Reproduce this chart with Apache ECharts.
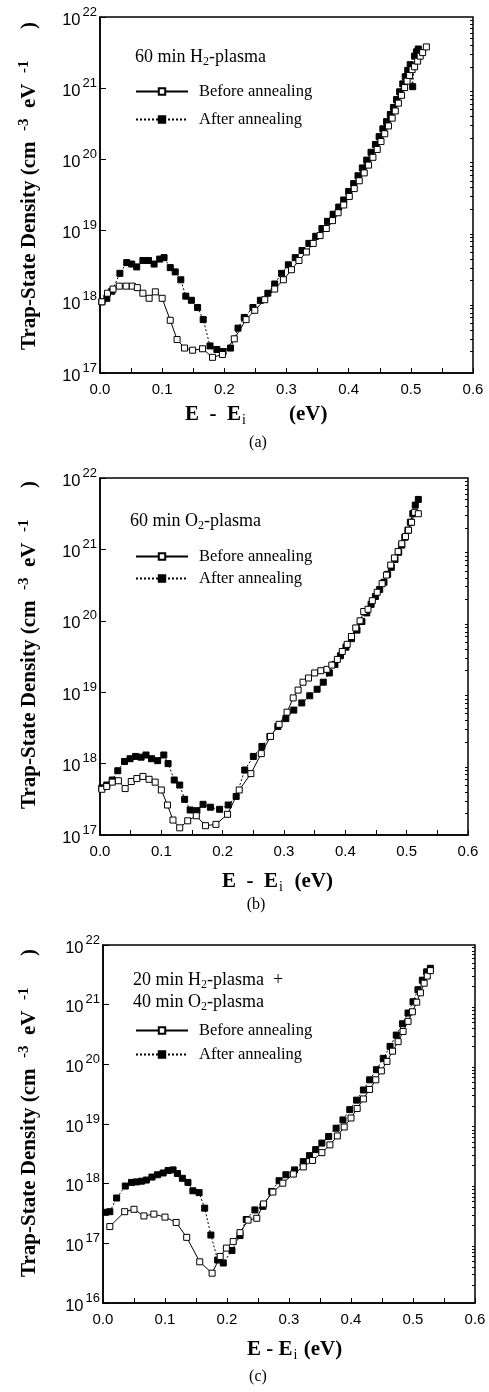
<!DOCTYPE html>
<html>
<head>
<meta charset="utf-8">
<script src="https://cdn.jsdelivr.net/npm/echarts@6/dist/echarts.min.js"></script>
<style>
  html, body { margin: 0; padding: 0; background: #fff; }
  #main { width: 489px; height: 1392px; }
</style>
</head>
<body>
<div id="main"></div>
<script>
// (a) 60 min H2-plasma   [E - Ei (eV), trap-state density (cm^-3 eV^-1)]
var beforeA = [
  [0.003, 1.00e18], [0.012, 1.32e18], [0.021, 1.51e18], [0.031, 1.66e18], [0.042, 1.66e18],
  [0.052, 1.66e18], [0.060, 1.58e18], [0.069, 1.32e18], [0.079, 1.12e18], [0.089, 1.38e18],
  [0.100, 1.12e18], [0.113, 5.50e17], [0.124, 2.95e17], [0.136, 2.24e17], [0.149, 2.09e17],
  [0.165, 2.19e17], [0.181, 1.66e17], [0.197, 1.82e17], [0.216, 3.02e17], [0.235, 5.62e17],
  [0.249, 7.59e17], [0.265, 1.07e18], [0.281, 1.51e18], [0.295, 2.04e18], [0.308, 2.82e18],
  [0.320, 3.80e18], [0.332, 5.01e18], [0.343, 6.61e18], [0.354, 8.51e18], [0.364, 1.07e19],
  [0.374, 1.38e19], [0.383, 1.78e19], [0.392, 2.29e19], [0.401, 3.02e19], [0.409, 3.89e19],
  [0.417, 5.01e19], [0.425, 6.46e19], [0.432, 8.32e19], [0.439, 1.07e20], [0.446, 1.38e20],
  [0.452, 1.78e20], [0.458, 2.29e20], [0.464, 2.95e20], [0.470, 3.80e20], [0.475, 4.79e20],
  [0.480, 6.17e20], [0.485, 7.94e20], [0.490, 1.02e21], [0.494, 1.26e21], [0.498, 1.51e21],
  [0.502, 1.82e21], [0.506, 2.00e21], [0.511, 2.40e21], [0.515, 2.82e21], [0.519, 3.16e21],
  [0.525, 3.80e21]
];
var afterA = [
  [0.003, 1.00e18], [0.011, 1.12e18], [0.019, 1.41e18], [0.032, 2.51e18], [0.043, 3.55e18],
  [0.051, 3.39e18], [0.059, 3.09e18], [0.069, 3.80e18], [0.078, 3.80e18], [0.087, 3.39e18],
  [0.096, 3.98e18], [0.103, 4.17e18], [0.113, 3.02e18], [0.121, 2.63e18], [0.130, 2.04e18],
  [0.138, 1.20e18], [0.147, 1.05e18], [0.157, 8.32e17], [0.166, 5.62e17], [0.177, 2.40e17],
  [0.188, 2.14e17], [0.198, 2.00e17], [0.210, 2.24e17], [0.222, 4.27e17], [0.232, 6.03e17],
  [0.246, 8.32e17], [0.258, 1.05e18], [0.270, 1.32e18], [0.281, 1.78e18], [0.292, 2.51e18],
  [0.303, 3.31e18], [0.314, 4.17e18], [0.325, 5.25e18], [0.336, 6.61e18], [0.347, 8.32e18],
  [0.357, 1.07e19], [0.366, 1.35e19], [0.375, 1.70e19], [0.384, 2.14e19], [0.392, 2.69e19],
  [0.400, 3.55e19], [0.408, 4.57e19], [0.415, 5.89e19], [0.422, 7.59e19], [0.429, 9.77e19],
  [0.436, 1.26e20], [0.443, 1.62e20], [0.449, 2.09e20], [0.455, 2.69e20], [0.461, 3.39e20],
  [0.467, 4.27e20], [0.472, 5.37e20], [0.477, 6.92e20], [0.482, 8.91e20], [0.487, 1.15e21],
  [0.491, 1.45e21], [0.495, 1.78e21], [0.499, 2.14e21], [0.503, 1.05e21], [0.506, 2.82e21],
  [0.509, 3.24e21], [0.512, 3.55e21]
];

// (b) 60 min O2-plasma
var beforeB = [
  [0.003, 4.37e17], [0.011, 4.79e17], [0.020, 5.50e17], [0.030, 5.75e17], [0.041, 4.47e17],
  [0.051, 5.62e17], [0.060, 6.17e17], [0.070, 6.61e17], [0.080, 6.03e17], [0.090, 5.50e17],
  [0.100, 4.27e17], [0.110, 2.63e17], [0.119, 1.62e17], [0.130, 1.26e17], [0.143, 1.58e17],
  [0.157, 1.86e17], [0.172, 1.35e17], [0.189, 1.41e17], [0.208, 1.95e17], [0.227, 4.27e17],
  [0.246, 7.24e17], [0.263, 1.38e18], [0.278, 2.40e18], [0.292, 3.55e18], [0.305, 5.25e18],
  [0.315, 8.32e18], [0.323, 1.07e19], [0.331, 1.38e19], [0.340, 1.58e19], [0.350, 1.86e19],
  [0.360, 2.00e19], [0.370, 2.09e19], [0.378, 2.40e19], [0.387, 2.88e19], [0.395, 3.72e19],
  [0.403, 4.68e19], [0.410, 6.03e19], [0.417, 7.94e19], [0.424, 1.00e20], [0.430, 1.35e20],
  [0.437, 1.45e20], [0.444, 1.91e20], [0.452, 2.51e20], [0.460, 3.31e20], [0.467, 4.37e20],
  [0.474, 6.03e20], [0.480, 7.59e20], [0.486, 9.33e20], [0.492, 1.20e21], [0.498, 1.51e21],
  [0.503, 1.86e21], [0.508, 2.40e21], [0.513, 3.31e21], [0.519, 3.16e21]
];
var afterB = [
  [0.003, 4.57e17], [0.011, 5.01e17], [0.020, 5.89e17], [0.029, 7.94e17], [0.040, 1.07e18],
  [0.049, 1.17e18], [0.058, 1.26e18], [0.067, 1.23e18], [0.075, 1.32e18], [0.084, 1.17e18],
  [0.094, 1.10e18], [0.104, 1.32e18], [0.111, 1.00e18], [0.121, 5.89e17], [0.130, 5.01e17],
  [0.138, 3.16e17], [0.147, 2.24e17], [0.158, 2.19e17], [0.168, 2.69e17], [0.180, 2.45e17],
  [0.195, 2.29e17], [0.209, 2.63e17], [0.222, 3.47e17], [0.236, 8.13e17], [0.250, 1.26e18],
  [0.264, 1.74e18], [0.277, 2.40e18], [0.290, 3.31e18], [0.303, 4.27e18], [0.316, 5.62e18],
  [0.329, 7.08e18], [0.342, 8.91e18], [0.354, 1.10e19], [0.364, 1.38e19], [0.374, 1.86e19],
  [0.383, 2.45e19], [0.392, 3.24e19], [0.401, 4.27e19], [0.410, 5.62e19], [0.419, 7.41e19],
  [0.427, 9.77e19], [0.435, 1.29e20], [0.442, 1.70e20], [0.449, 2.19e20], [0.456, 2.75e20],
  [0.463, 3.47e20], [0.469, 4.47e20], [0.475, 5.62e20], [0.481, 7.24e20], [0.487, 9.12e20],
  [0.492, 1.15e21], [0.497, 1.48e21], [0.502, 1.86e21], [0.506, 2.40e21], [0.510, 3.16e21],
  [0.514, 4.17e21], [0.519, 5.01e21]
];

// (c) 20 min H2-plasma + 40 min O2-plasma
var beforeC = [
  [0.011, 1.91e17], [0.035, 3.39e17], [0.050, 3.72e17], [0.066, 2.88e17], [0.082, 3.09e17],
  [0.100, 2.75e17], [0.118, 2.24e17], [0.135, 1.26e17], [0.156, 4.90e16], [0.176, 3.16e16],
  [0.189, 6.03e16], [0.199, 8.32e16], [0.210, 1.07e17], [0.221, 1.51e17], [0.234, 2.45e17],
  [0.248, 2.63e17], [0.259, 4.57e17], [0.274, 7.24e17], [0.290, 1.02e18], [0.307, 1.45e18],
  [0.323, 1.91e18], [0.338, 2.45e18], [0.353, 3.31e18], [0.366, 4.47e18], [0.378, 6.31e18],
  [0.389, 8.91e18], [0.400, 1.26e19], [0.410, 1.82e19], [0.420, 2.63e19], [0.430, 3.80e19],
  [0.440, 5.50e19], [0.449, 7.76e19], [0.458, 1.12e20], [0.467, 1.66e20], [0.476, 2.40e20],
  [0.484, 3.55e20], [0.492, 5.25e20], [0.499, 7.59e20], [0.506, 1.10e21], [0.512, 1.58e21],
  [0.518, 2.29e21], [0.523, 3.02e21], [0.528, 3.72e21]
];
var afterC = [
  [0.004, 3.31e17], [0.011, 3.39e17], [0.022, 5.75e17], [0.036, 9.12e17], [0.046, 1.05e18],
  [0.054, 1.07e18], [0.062, 1.10e18], [0.070, 1.15e18], [0.079, 1.29e18], [0.088, 1.41e18],
  [0.097, 1.51e18], [0.105, 1.66e18], [0.113, 1.70e18], [0.120, 1.48e18], [0.128, 1.23e18],
  [0.137, 1.05e18], [0.145, 7.59e17], [0.155, 7.08e17], [0.164, 3.89e17], [0.174, 1.38e17],
  [0.185, 5.25e16], [0.194, 4.68e16], [0.208, 7.59e16], [0.221, 1.35e17], [0.231, 2.51e17],
  [0.245, 3.63e17], [0.258, 4.17e17], [0.272, 7.41e17], [0.284, 1.12e18], [0.295, 1.41e18],
  [0.309, 1.70e18], [0.323, 2.34e18], [0.333, 2.95e18], [0.343, 3.72e18], [0.353, 4.79e18],
  [0.364, 6.17e18], [0.376, 8.51e18], [0.387, 1.17e19], [0.398, 1.74e19], [0.409, 2.51e19],
  [0.420, 3.72e19], [0.430, 5.50e19], [0.441, 8.13e19], [0.452, 1.26e20], [0.463, 2.00e20],
  [0.473, 3.09e20], [0.483, 4.79e20], [0.492, 7.24e20], [0.500, 1.12e21], [0.508, 1.78e21],
  [0.515, 2.57e21], [0.522, 3.55e21], [0.528, 4.07e21]
];

var xLabels = ['0.0', '0.1', '0.2', '0.3', '0.4', '0.5', '0.6'];
var yRanges = [[1e17, 1e22], [1e17, 1e22], [1e16, 1e22]];
var legendNames = ['Before annealing', 'After annealing'];

var serif = '"Liberation Serif", "Times New Roman", serif';
var sans = '"Liberation Sans", Arial, sans-serif';

// plot boxes, measured on the reference
var grids = [
    {left: 100, top: 17,  width: 373, height: 356},
    {left: 100, top: 478, width: 368, height: 357},
    {left: 103, top: 945, width: 372, height: 358}
];

// 2..9 x 10^n, for the short log ticks
var minorTicks = function (range) {
    var out = [];
    for (var v = range[0]; v < range[1]; v *= 10) {
        for (var m = 2; m < 10; m++) out.push(m * v);
    }
    return out;
};

var xAxes = [], yAxes = [], series = [];
var panels = [[beforeA, afterA], [beforeB, afterB], [beforeC, afterC]];

for (var i = 0; i < 3; i++) {
    xAxes.push({
        type: 'value', gridIndex: i, min: 0, max: 0.6, interval: 0.1,
        axisLine: {lineStyle: {color: '#000', width: 1.5}},
        axisTick: {inside: true, length: 5, lineStyle: {color: '#000'}},
        minorTick: {show: true, splitNumber: 2, length: 5, lineStyle: {color: '#000'}},
        splitLine: {show: false},
        axisLabel: {
            color: '#000', fontFamily: sans, fontSize: 15, margin: 9,
            formatter: function (v) { return xLabels[Math.round(v * 10)]; }
        }
    });
    yAxes.push({
        type: 'log', logBase: 10, gridIndex: i, min: yRanges[i][0], max: yRanges[i][1],
        axisLine: {lineStyle: {color: '#000', width: 1.5}},
        axisTick: {inside: true, length: 6, lineStyle: {color: '#000'}},
        splitLine: {show: false},
        axisLabel: {
            margin: 3,
            formatter: function (v) {
                return '{b|10}{s|' + Math.round(Math.log10(v)) + '}';
            },
            rich: {
                b: {fontFamily: sans, fontSize: 16.5, color: '#000', padding: [6, 0, 0, 0]},
                s: {fontFamily: sans, fontSize: 13, color: '#000', padding: [0, 0, 10, 2]}
            }
        }
    });
    yAxes.push({
        type: 'log', logBase: 10, gridIndex: i, min: yRanges[i][0], max: yRanges[i][1],
        axisLine: {show: false},
        axisTick: {inside: true, length: 3, customValues: minorTicks(yRanges[i]), lineStyle: {color: '#000'}},
        axisLabel: {show: false},
        splitLine: {show: false}
    });

    series.push({
        name: legendNames[0], type: 'line', xAxisIndex: i, yAxisIndex: 2 * i,
        data: panels[i][0], symbol: 'rect', symbolSize: 6, showAllSymbol: true,
        lineStyle: {color: '#000', width: 1},
        itemStyle: {color: '#fff', borderColor: '#000', borderWidth: 1},
        z: 3
    });
    series.push({
        name: legendNames[1], type: 'line', xAxisIndex: i, yAxisIndex: 2 * i,
        data: panels[i][1], symbol: 'rect', symbolSize: 6, showAllSymbol: true,
        lineStyle: {color: '#000', width: 1, type: [2, 2]},
        itemStyle: {color: '#000', borderColor: '#000', borderWidth: 1},
        z: 2
    });
}

// legend rows: top and gap per panel
var legendPos = [[78, 11], [543, 5], [1017, 7]];
var legends = legendPos.map(function (p) {
    return {
        data: legendNames, orient: 'vertical', left: 130, top: p[0],
        itemWidth: 52, itemHeight: 8, itemGap: p[1], selectedMode: false,
        textStyle: {fontFamily: serif, fontSize: 16.5, color: '#000', padding: [0, 0, 0, 6]}
    };
});

var richText = {
    t: {fontFamily: serif, fontSize: 18, color: '#000'},
    sub: {fontFamily: serif, fontSize: 12, color: '#000', padding: [9, 0, 0, 0]}
};
var titleRich = {
    t: {fontFamily: serif, fontSize: 21, fontWeight: 'bold', color: '#000'},
    sub: {fontFamily: serif, fontSize: 14, color: '#000', padding: [10, 1, 0, 1]},
    sup: {fontFamily: serif, fontSize: 15, fontWeight: 'bold', color: '#000', padding: [0, 0, 12, 0]}
};

function label(x, y, text, rich, align) {
    return {type: 'text', x: x, y: y, style: {text: text, rich: rich, align: align || 'left', verticalAlign: 'middle'}};
}
function yTitle(y) {
    return {
        type: 'text', x: 30, y: y, rotation: Math.PI / 2,
        style: {
            text: '{t|Trap-State Density (cm  }{sup|-3}{t|  eV  }{sup|-1}{t|      )}',
            rich: titleRich, align: 'center', verticalAlign: 'middle'
        }
    };
}

var graphics = [
    label(135, 57, '{t|60 min H}{sub|2}{t|-plasma}', richText),
    label(130, 521, '{t|60 min O}{sub|2}{t|-plasma}', richText),
    label(133, 980, '{t|20 min H}{sub|2}{t|-plasma  +}', richText),
    label(133, 1002, '{t|40 min O}{sub|2}{t|-plasma}', richText),
    label(185, 415, '{t|E  -  E}{sub|i}{t|        (eV)}', titleRich),
    label(222, 882, '{t|E  -  E}{sub|i}{t|  (eV)}', titleRich),
    label(247, 1350, '{t|E - E}{sub|i}{t| (eV)}', titleRich),
    yTitle(186), yTitle(645), yTitle(1113),
    {type: 'text', x: 258, y: 443, style: {text: '(a)', font: '16px ' + serif, fill: '#000', align: 'center', verticalAlign: 'middle'}},
    {type: 'text', x: 256, y: 905, style: {text: '(b)', font: '16px ' + serif, fill: '#000', align: 'center', verticalAlign: 'middle'}},
    {type: 'text', x: 258, y: 1377, style: {text: '(c)', font: '16px ' + serif, fill: '#000', align: 'center', verticalAlign: 'middle'}}
];

var chart = echarts.init(document.getElementById('main'));
chart.setOption({
    animation: false,
    backgroundColor: '#fff',
    grid: grids.map(function (g) {
        return {left: g.left, top: g.top, width: g.width, height: g.height,
                show: true, borderColor: '#000', borderWidth: 1.5, backgroundColor: 'transparent'};
    }),
    xAxis: xAxes,
    yAxis: yAxes,
    legend: legends,
    series: series,
    graphic: graphics
});
</script>
</body>
</html>
